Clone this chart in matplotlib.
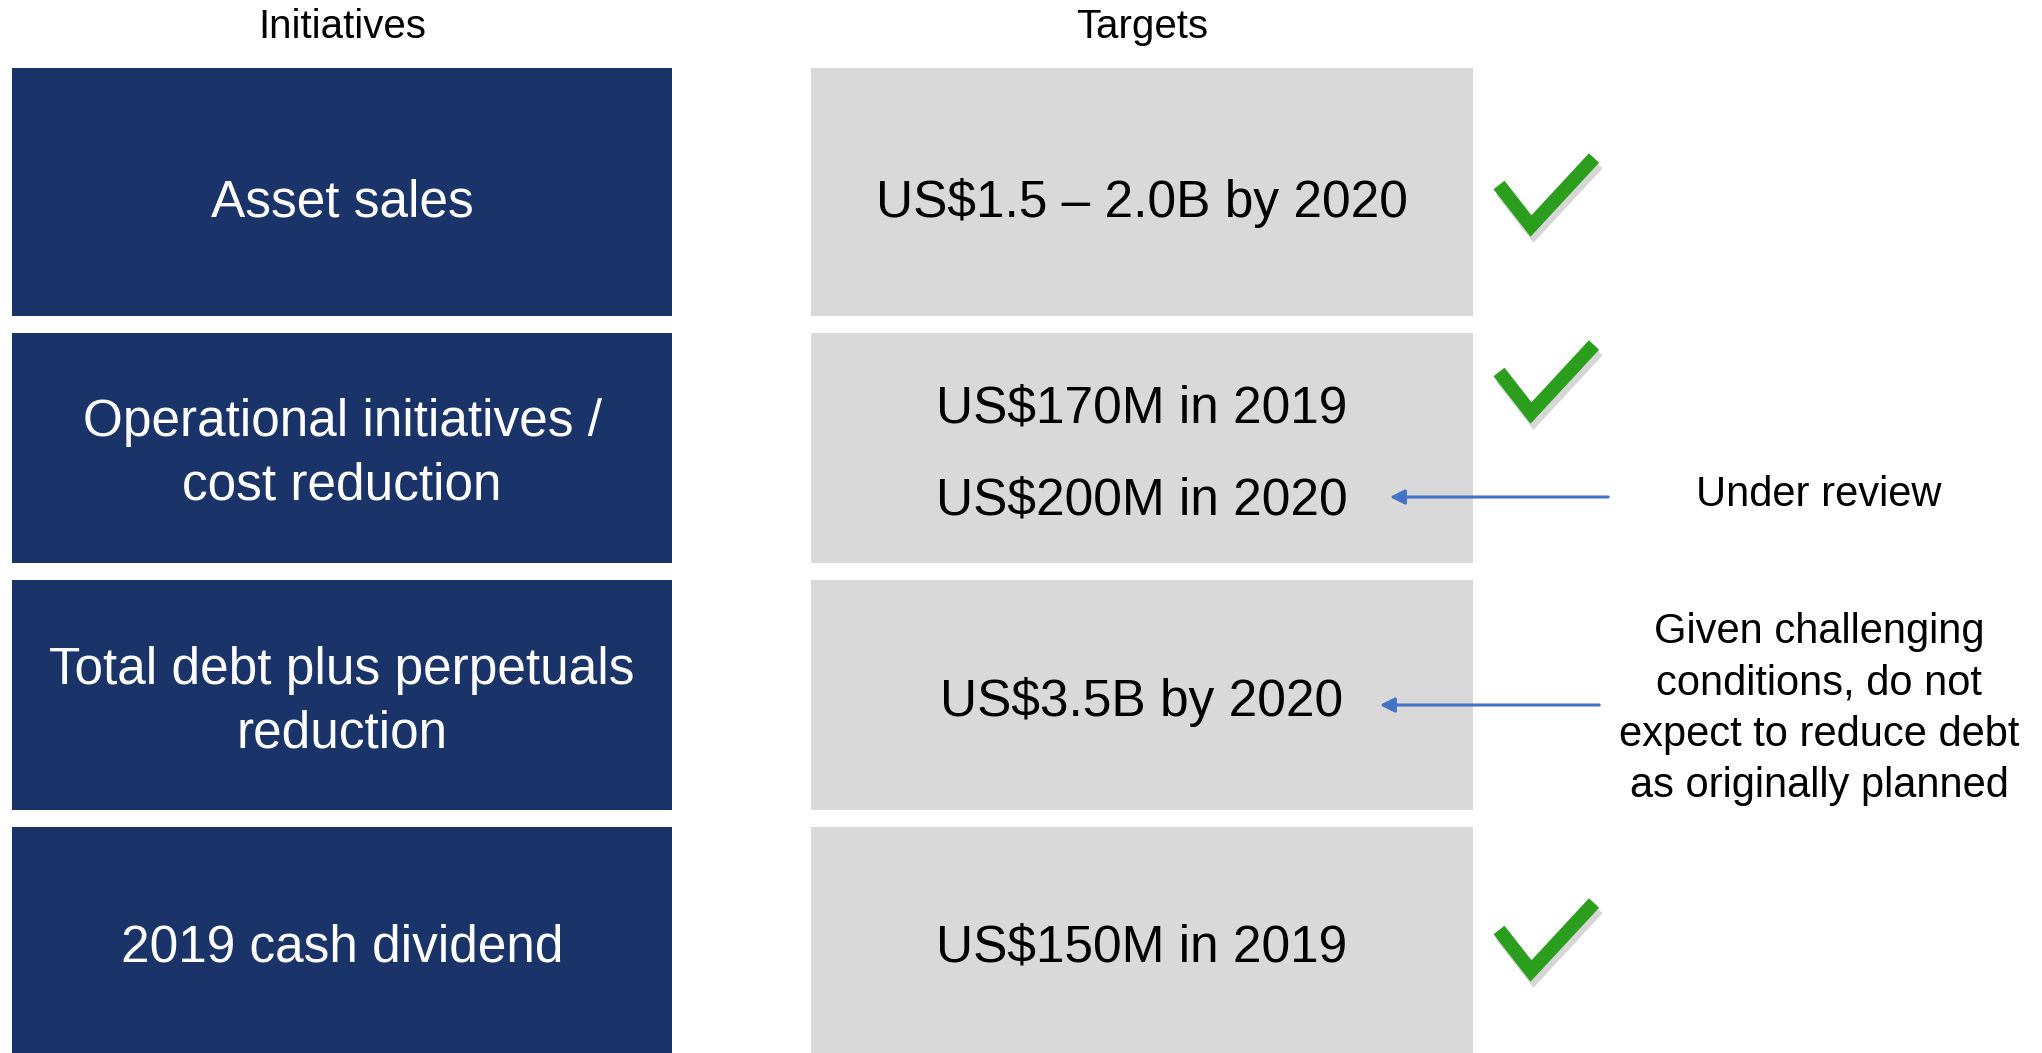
import matplotlib
matplotlib.use("Agg")
import matplotlib.pyplot as plt
from matplotlib import font_manager as fm
from matplotlib.patches import Rectangle

# ---------------- data ----------------
headers = ["Initiatives", "Targets"]
initiatives = ["Asset sales",
               "Operational initiatives /\ncost reduction",
               "Total debt plus perpetuals\nreduction",
               "2019 cash dividend"]
targets = [["US$1.5 \u2013 2.0B by 2020"],
           ["US$170M in 2019", "US$200M in 2020"],
           ["US$3.5B by 2020"],
           ["US$150M in 2019"]]
achieved = [True, True, False, True]
note_review = "Under review"
note_debt = "Given challenging\nconditions, do not\nexpect to reduce debt\nas originally planned"

# ---------------- layout (pixels) ----------------
W, H = 2042, 1053
row_top = [68, 333, 580, 827]
row_h = [248, 230, 230, 230]
left_x0, left_x1 = 12, 672
right_x0, right_x1 = 811, 1473
target_y = [[203], [409, 501], [702], [948]]
left_y = [203, 454, 702, 948]
check_cy = [191, 378, None, 936]
check_cx = 1545

NAVY = "#1A3368"
GRAY = "#D9D9D9"
GREEN = "#2B9E1E"
BLUE = "#4472C4"

names = {f.name for f in fm.fontManager.ttflist}
fam = "Liberation Sans Narrow" if "Liberation Sans Narrow" in names else "Liberation Sans"

fig = plt.figure(figsize=(W / 100, H / 100), dpi=100)
ax = fig.add_axes([0, 0, 1, 1])
ax.set_xlim(0, W)
ax.set_ylim(H, 0)
ax.axis("off")

# headers
ax.text((left_x0 + left_x1) / 2, 27, headers[0], ha="center", va="center",
        fontsize=29, family=fam, color="black")
ax.text((right_x0 + right_x1) / 2, 27, headers[1], ha="center", va="center",
        fontsize=29, family=fam, color="black")

for i, name in enumerate(initiatives):
    ax.add_patch(Rectangle((left_x0, row_top[i]), left_x1 - left_x0, row_h[i],
                           facecolor=NAVY, edgecolor="none"))
    ax.add_patch(Rectangle((right_x0, row_top[i]), right_x1 - right_x0, row_h[i],
                           facecolor=GRAY, edgecolor="none"))
    ax.text((left_x0 + left_x1) / 2, left_y[i], name, ha="center", va="center",
            fontsize=37, family=fam, color="white", linespacing=1.38)
    for t, ty in zip(targets[i], target_y[i]):
        ax.text((right_x0 + right_x1) / 2, ty, t, ha="center", va="center",
                fontsize=37, family=fam, color="black")
    if achieved[i] and check_cy[i] is not None:
        cy = check_cy[i]
        xs = [check_cx - 46, check_cx - 14, check_cx + 49]
        ys = [cy - 6, cy + 35, cy - 33]
        ax.plot([x + 3 for x in xs], [y + 5 for y in ys], color="#999999",
                lw=11, alpha=0.4, solid_joinstyle="miter", solid_capstyle="butt")
        ax.plot(xs, ys, color=GREEN, lw=10, solid_joinstyle="miter",
                solid_capstyle="butt")

# notes with arrows
ax.annotate("", xy=(1387, 497), xytext=(1611, 497),
            arrowprops=dict(arrowstyle="-|>", color=BLUE, lw=2.2, mutation_scale=22))
ax.text(1819, 495, note_review, ha="center", va="center", fontsize=30,
        family=fam, color="black")

ax.annotate("", xy=(1377, 705), xytext=(1602, 705),
            arrowprops=dict(arrowstyle="-|>", color=BLUE, lw=2.2, mutation_scale=22))
ax.text(1819, 709, note_debt, ha="center", va="center", fontsize=30,
        family=fam, color="black", linespacing=1.36)

fig.savefig("out.png", dpi=100)
